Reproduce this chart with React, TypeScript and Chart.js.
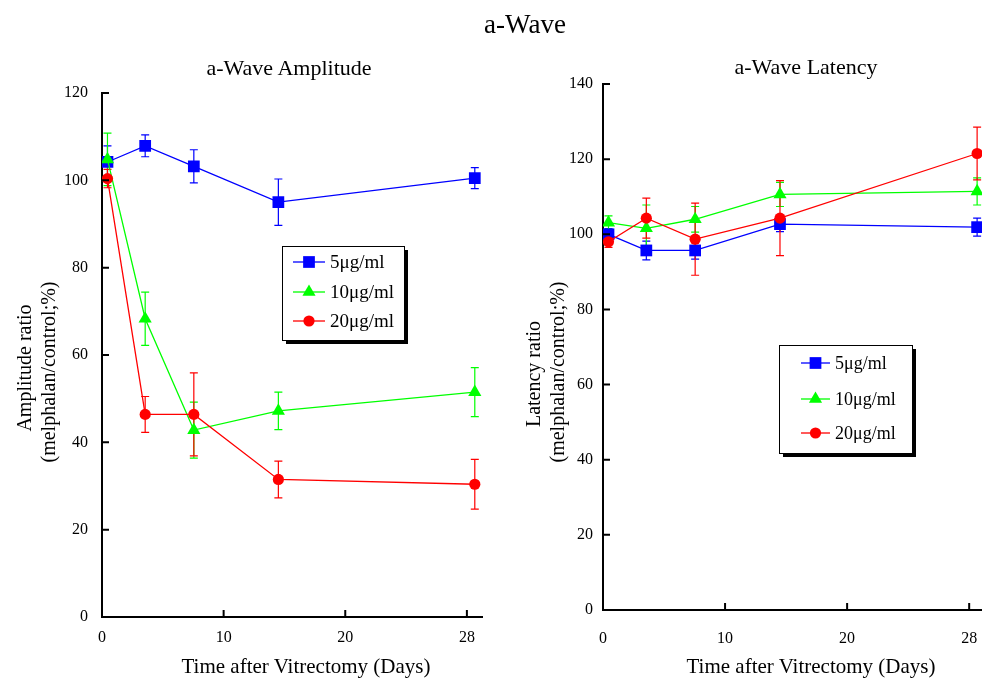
import React, { useEffect, useRef } from 'react';
import { Chart, registerables } from 'chart.js';

Chart.register(...registerables);

const SERIF = "'Liberation Serif', 'Times New Roman', Times, serif";

// Plotted day positions (broken axis: last point is day 28, drawn where 30 would be)
const dayPositions = [0.45, 3.55, 7.55, 14.5, 30.65];
const xTickValues = [0, 10, 20, 30];
const xTickLabels = ['0', '10', '20', '28'];
const concLabels = ['5μg/ml', '10μg/ml', '20μg/ml'];

// a-Wave Amplitude (%)
const amp5 = [104.2, 107.9, 103.2, 95.0, 100.5];
const amp5Err = [3.7, 2.5, 3.8, 5.3, 2.4];
const amp10 = [104.8, 68.3, 42.8, 47.2, 51.5];
const amp10Err = [6.0, 6.1, 6.4, 4.3, 5.6];
const amp20 = [100.4, 46.4, 46.4, 31.5, 30.4];
const amp20Err = [2.1, 4.1, 9.5, 4.2, 5.7];

// a-Wave Latency (%)
const lat5 = [100.0, 95.7, 95.7, 102.7, 101.9];
const lat5Err = [1.5, 2.5, 2.3, 2.0, 2.4];
const lat10 = [103.1, 101.6, 104.0, 110.6, 111.4];
const lat10Err = [1.8, 6.2, 3.4, 3.2, 3.6];
const lat20 = [98.0, 104.3, 98.7, 104.3, 121.5];
const lat20Err = [1.5, 5.3, 9.6, 10.0, 7.0];

const seriesColors = ['#0000ff', '#00ff00', '#ff0000'];
const seriesPointStyles = ['rect', 'triangle', 'circle'];
const seriesPointRadii = [8.3, 7.6, 5.6];

function drawMarker(ctx: CanvasRenderingContext2D, style: string, x: number, y: number, r: number, color: string) {
  ctx.save();
  ctx.fillStyle = color;
  ctx.beginPath();
  if (style === 'rect') {
    const s = Math.SQRT1_2 * r;
    ctx.rect(x - s, y - s, 2 * s, 2 * s);
  } else if (style === 'triangle') {
    for (let k = 0; k < 3; k++) {
      const a = (k * 2 * Math.PI) / 3;
      const px = x + Math.sin(a) * r;
      const py = y - Math.cos(a) * r;
      if (k === 0) ctx.moveTo(px, py);
      else ctx.lineTo(px, py);
    }
    ctx.closePath();
  } else {
    ctx.arc(x, y, r, 0, Math.PI * 2);
  }
  ctx.fill();
  ctx.restore();
}

const errorBarPlugin = {
  id: 'errorBars',
  beforeDatasetsDraw(chart: any) {
    const ctx = chart.ctx as CanvasRenderingContext2D;
    const xs = chart.scales.x;
    const ys = chart.scales.y;
    const metas = chart.getSortedVisibleDatasetMetas().slice().reverse();
    metas.forEach((meta: any) => {
      const ds = chart.data.datasets[meta.index];
      const errs: number[] = ds.errors;
      if (!errs) return;
      ctx.save();
      ctx.strokeStyle = ds.borderColor;
      ctx.lineWidth = 1.2;
      ds.data.forEach((pt: any, j: number) => {
        const x = xs.getPixelForValue(pt.x);
        const yTop = ys.getPixelForValue(pt.y + errs[j]);
        const yBot = ys.getPixelForValue(pt.y - errs[j]);
        ctx.beginPath();
        ctx.moveTo(x, yTop);
        ctx.lineTo(x, yBot);
        ctx.moveTo(x - 4, yTop);
        ctx.lineTo(x + 4, yTop);
        ctx.moveTo(x - 4, yBot);
        ctx.lineTo(x + 4, yBot);
        ctx.stroke();
      });
      ctx.restore();
    });
  },
};

const inwardTicksPlugin = {
  id: 'inwardTicks',
  afterDraw(chart: any) {
    const ctx = chart.ctx as CanvasRenderingContext2D;
    const area = chart.chartArea;
    const xs = chart.scales.x;
    const ys = chart.scales.y;
    ctx.save();
    ctx.strokeStyle = '#000';
    ctx.lineWidth = 2;
    ctx.beginPath();
    ys.ticks.forEach((t: any) => {
      const y = ys.getPixelForValue(t.value);
      ctx.moveTo(area.left, y);
      ctx.lineTo(area.left + 7, y);
    });
    xs.ticks.forEach((t: any) => {
      const x = xs.getPixelForValue(t.value);
      ctx.moveTo(x, area.bottom);
      ctx.lineTo(x, area.bottom - 7);
    });
    ctx.stroke();
    ctx.restore();
  },
};

const boxLegendPlugin = {
  id: 'boxLegend',
  afterDraw(chart: any, _args: any, opts: any) {
    if (!opts || !opts.w) return;
    const ctx = chart.ctx as CanvasRenderingContext2D;
    const area = chart.chartArea;
    const bx = area.left + opts.x;
    const by = area.top + opts.y;
    ctx.save();
    ctx.fillStyle = '#000';
    ctx.fillRect(bx + 4, by + 4, opts.w, opts.h);
    ctx.fillStyle = '#fff';
    ctx.fillRect(bx, by, opts.w, opts.h);
    ctx.strokeStyle = '#000';
    ctx.lineWidth = 1;
    ctx.strokeRect(bx + 0.5, by + 0.5, opts.w, opts.h);
    ctx.font = `${opts.fontSize}px ${SERIF}`;
    ctx.textBaseline = 'middle';
    ctx.textAlign = 'left';
    chart.data.datasets.forEach((ds: any, i: number) => {
      const ry = by + opts.rows[i];
      ctx.strokeStyle = ds.borderColor;
      ctx.lineWidth = 1.3;
      ctx.beginPath();
      ctx.moveTo(bx + opts.lineStart, ry);
      ctx.lineTo(bx + opts.lineEnd, ry);
      ctx.stroke();
      drawMarker(ctx, ds.pointStyle, bx + (opts.lineStart + opts.lineEnd) / 2, ry, ds.pointRadius, ds.borderColor);
      ctx.fillStyle = '#000';
      ctx.fillText(ds.label, bx + opts.textX, ry + 1);
    });
    ctx.restore();
  },
};

function buildConfig(
  values: number[][],
  errors: number[][],
  yMax: number,
  xMax: number,
  padTop: number,
  padRight: number,
  yWidth: number,
  xHeight: number,
  yLabelPad: number,
  xLabelPad: number,
  legendOpts: any
): any {
  const datasets = values.map((vals, i) => ({
    label: concLabels[i],
    data: dayPositions.map((d, j) => ({ x: d, y: vals[j] })),
    errors: errors[i],
    borderColor: seriesColors[i],
    backgroundColor: seriesColors[i],
    pointBackgroundColor: seriesColors[i],
    pointBorderColor: seriesColors[i],
    pointBorderWidth: 0,
    pointStyle: seriesPointStyles[i],
    pointRadius: seriesPointRadii[i],
    borderWidth: 1.3,
    tension: 0,
    fill: false,
    order: 3 - i,
  }));
  return {
    type: 'line',
    data: { datasets },
    plugins: [errorBarPlugin, inwardTicksPlugin, boxLegendPlugin],
    options: {
      responsive: false,
      animation: false,
      events: [],
      layout: { padding: { top: padTop, right: padRight, left: 0, bottom: 0 } },
      plugins: {
        legend: { display: false },
        title: { display: false },
        tooltip: { enabled: false },
        boxLegend: legendOpts,
      },
      scales: {
        x: {
          type: 'linear',
          min: 0,
          max: xMax,
          afterBuildTicks: (scale: any) => {
            scale.ticks = xTickValues.map((v) => ({ value: v }));
          },
          afterFit: (scale: any) => {
            scale.height = xHeight;
          },
          grid: { display: false, drawTicks: false },
          border: { display: true, color: '#000', width: 2 },
          ticks: {
            autoSkip: false,
            maxRotation: 0,
            padding: xLabelPad,
            color: '#000',
            font: { family: SERIF, size: 16 },
            callback: (v: any) => {
              const k = xTickValues.indexOf(Number(v));
              return k >= 0 ? xTickLabels[k] : '';
            },
          },
        },
        y: {
          type: 'linear',
          min: 0,
          max: yMax,
          afterFit: (scale: any) => {
            scale.width = yWidth;
          },
          grid: { display: false, drawTicks: false },
          border: { display: true, color: '#000', width: 2 },
          ticks: {
            stepSize: 20,
            padding: yLabelPad,
            color: '#000',
            font: { family: SERIF, size: 16 },
          },
        },
      },
    },
  };
}

function Label(props: { x: number; y: number; size: number; text: string; rotate?: boolean }) {
  const { x, y, size, text, rotate } = props;
  return (
    <div
      style={{
        position: 'absolute',
        left: x,
        top: y,
        transform: `translate(-50%, -50%)${rotate ? ' rotate(-90deg)' : ''}`,
        fontFamily: SERIF,
        fontSize: size,
        lineHeight: 1,
        whiteSpace: 'nowrap',
        color: '#000',
      }}
    >
      {text}
    </div>
  );
}

export default function App() {
  const leftRef = useRef<HTMLCanvasElement>(null);
  const rightRef = useRef<HTMLCanvasElement>(null);

  useEffect(() => {
    const left = new Chart(
      leftRef.current as HTMLCanvasElement,
      buildConfig(
        [amp5, amp10, amp20],
        [amp5Err, amp10Err, amp20Err],
        120,
        31.3,
        93,
        8,
        102,
        62,
        14,
        11,
        { x: 180, y: 153, w: 122, h: 94, rows: [16, 46, 75], lineStart: 11, lineEnd: 43, textX: 48, fontSize: 19 }
      )
    );
    const right = new Chart(
      rightRef.current as HTMLCanvasElement,
      buildConfig(
        [lat5, lat10, lat20],
        [lat5Err, lat10Err, lat20Err],
        140,
        31.05,
        84,
        29,
        112,
        69,
        10,
        19,
        { x: 176, y: 261, w: 133, h: 108, rows: [18, 54, 88], lineStart: 22, lineEnd: 51, textX: 56, fontSize: 18 }
      )
    );
    return () => {
      left.destroy();
      right.destroy();
    };
  }, []);

  return (
    <div style={{ position: 'absolute', left: 0, top: 0, width: 982, height: 679, background: '#fff', overflow: 'hidden' }}>
      <canvas ref={leftRef} width={491} height={679} style={{ position: 'absolute', left: 0, top: 0 }} />
      <canvas ref={rightRef} width={520} height={679} style={{ position: 'absolute', left: 491, top: 0 }} />
      <Label x={525} y={24} size={27} text="a-Wave" />
      <Label x={289} y={68} size={22} text="a-Wave Amplitude" />
      <Label x={806} y={67} size={22} text="a-Wave Latency" />
      <Label x={24} y={368} size={20} text="Amplitude ratio" rotate />
      <Label x={48} y={372} size={20} text="(melphalan/control;%)" rotate />
      <Label x={533} y={374} size={20} text="Latency ratio" rotate />
      <Label x={557} y={372} size={20} text="(melphalan/control;%)" rotate />
      <Label x={306} y={666} size={21} text="Time after Vitrectomy (Days)" />
      <Label x={811} y={666} size={21} text="Time after Vitrectomy (Days)" />
    </div>
  );
}
